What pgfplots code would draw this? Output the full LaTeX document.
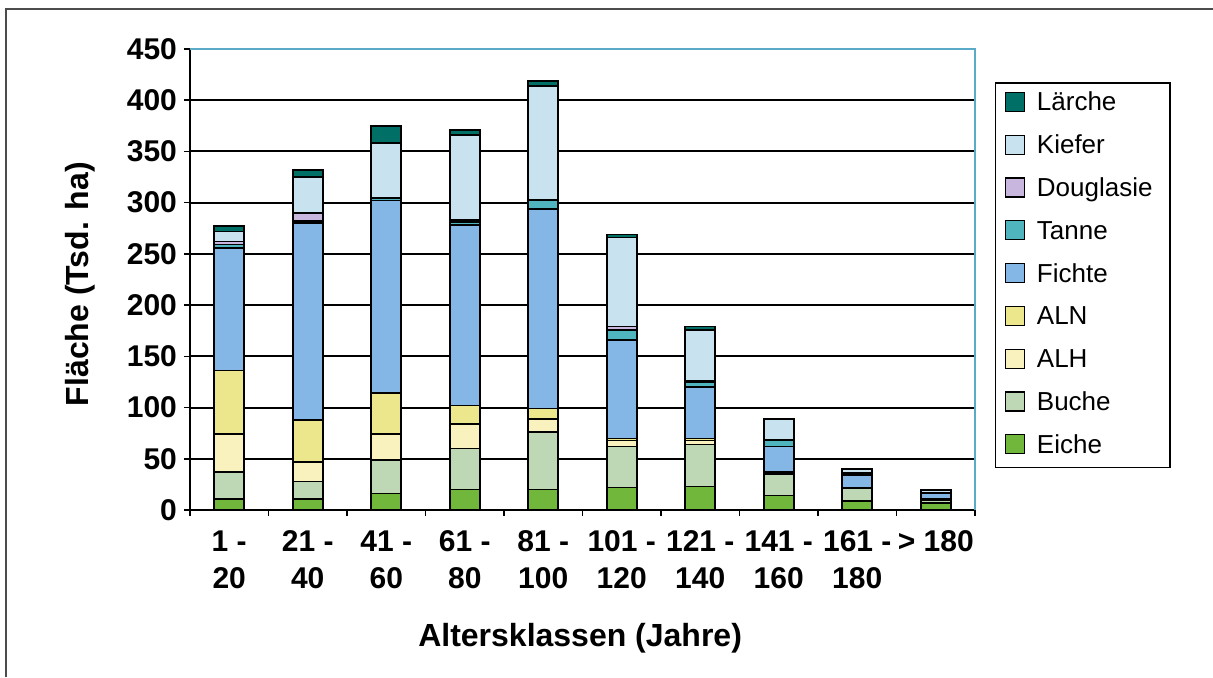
\documentclass[border=0pt]{standalone}
\usepackage{fontspec}
\setmainfont{Liberation Sans}
\usepackage{pgfplots}
\pgfplotsset{compat=1.18}
\usepackage{pgfplotstable}

\definecolor{eiche}{RGB}{112,183,60}
\definecolor{buche}{RGB}{190,215,180}
\definecolor{alh}{RGB}{250,242,190}
\definecolor{aln}{RGB}{236,230,140}
\definecolor{fichte}{RGB}{132,182,230}
\definecolor{tanne}{RGB}{80,180,190}
\definecolor{douglasie}{RGB}{200,182,222}
\definecolor{kiefer}{RGB}{200,226,240}
\definecolor{laerche}{RGB}{0,112,102}
\definecolor{rahmen}{RGB}{90,170,200}

% Fläche je Altersklasse (Tsd. ha)
\pgfplotstableread{
x Eiche Buche ALH ALN Fichte Tanne Douglasie Kiefer Laerche
0 11 26 37 62 120 3 3 10 5
1 11 17 19 41 192 2 8 35 7
2 16 33 25 40 188 2 1 53 17
3 20 40 24 18 176 3 2 83 5
4 20 56 13 10 195 8 1 111 5
5 22 40 6 2 96 10 3 87 3
6 23 41 4 2 50 5 1 50 3
7 14 21 1 1 25 6 0.5 20 0.5
8 9 12 0.5 0.5 12 2 0.5 3 1
9 7 3 0.5 0.5 5 1 0.2 2.5 0.5
}\data

\begin{document}
\begin{tikzpicture}[x=1pt,y=1pt]
\useasboundingbox (-95,-83.5) rectangle (511.5,255);
\draw[line width=0.8pt, black!70] (-92,-83.5) -- (-92,250.5) -- (511.5,250.5);
\begin{axis}[
  at={(0,0)}, anchor=south west,
  scale only axis, width=392.5pt, height=230.5pt,
  ybar stacked, bar width=15pt,
  xmin=-0.5, xmax=9.5, ymin=0, ymax=450,
  axis x line*=bottom, axis y line*=left,
  axis line style={-, line width=1pt, black},
  ytick={0,50,...,450},
  ymajorgrids, major grid style={black, line width=1pt},
  xtick={-0.5,0.5,...,9.5}, xticklabels={},
  extra x ticks={0,1,...,9},
  extra x tick labels={{\strut1 -\\\strut20},{\strut21 -\\\strut40},{\strut41 -\\\strut60},{\strut61 -\\\strut80},{\strut81 -\\\strut100},{\strut101 -\\\strut120},{\strut121 -\\\strut140},{\strut141 -\\\strut160},{\strut161 -\\\strut180},{\strut> 180\\\strut}},
  extra x tick style={major tick length=0pt},
  tick align=outside, major tick length=3pt,
  tick style={black, line width=0.8pt},
  /pgf/number format/assume math mode=true,
  tick label style={font=\fontsize{15}{18.5}\selectfont\bfseries},
  xticklabel style={align=center, anchor=north, yshift=-4.5pt},
  xlabel={Altersklassen (Jahre)},
  ylabel={Fläche (Tsd. ha)},
  xlabel style={at={(axis description cs:0.497,-0.278)}, anchor=center, font=\fontsize{16}{16}\selectfont\bfseries},
  ylabel style={at={(axis description cs:-0.140,0.49)}, anchor=center, font=\fontsize{16}{16}\selectfont\bfseries},
  every axis plot/.append style={draw=black, line width=0.8pt},
  legend image code/.code={\draw[#1, draw=black, line width=0.6pt] (0pt,-0.25pt) rectangle (9.5pt,9.25pt);},
  reverse legend,
  legend cell align=left,
  legend style={at={(axis description cs:1.0255,0.928)}, anchor=north west,
    draw=black, line width=0.7pt, font=\fontsize{13}{13}\selectfont,
    inner xsep=4.5pt, inner ysep=4pt, row sep=8.4pt,
    nodes={inner sep=0pt, text height=10pt, text depth=3pt, text width=62pt, anchor=base west},
    /tikz/every odd column/.append style={column sep=6pt}},
]
\addplot[fill=eiche] table[x=x, y=Eiche]{\data};
\addplot[fill=buche] table[x=x, y=Buche]{\data};
\addplot[fill=alh] table[x=x, y=ALH]{\data};
\addplot[fill=aln] table[x=x, y=ALN]{\data};
\addplot[fill=fichte] table[x=x, y=Fichte]{\data};
\addplot[fill=tanne] table[x=x, y=Tanne]{\data};
\addplot[fill=douglasie] table[x=x, y=Douglasie]{\data};
\addplot[fill=kiefer] table[x=x, y=Kiefer]{\data};
\addplot[fill=laerche] table[x=x, y=Laerche]{\data};
\legend{Eiche,Buche,ALH,ALN,Fichte,Tanne,Douglasie,Kiefer,Lärche}
\end{axis}
\draw[rahmen, line width=0.8pt] (0,230.5) -- (392.5,230.5) -- (392.5,0);
\end{tikzpicture}
\end{document}
